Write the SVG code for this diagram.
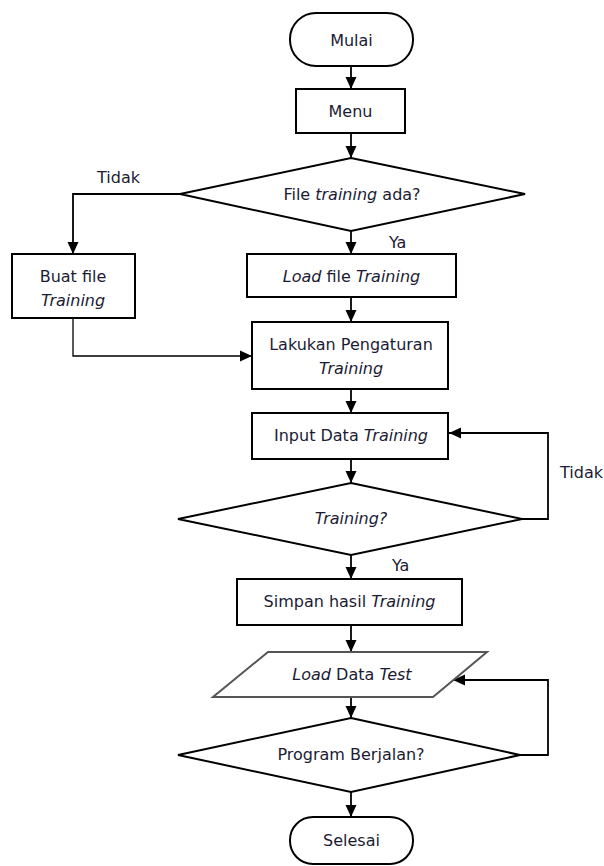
<svg xmlns="http://www.w3.org/2000/svg" width="604" height="866" viewBox="0 0 604 866">
<defs>
<marker id="ah" markerWidth="12" markerHeight="12" viewBox="0 0 12 12" refX="12" refY="6" orient="auto" markerUnits="userSpaceOnUse">
<path d="M0,0.5 L12,6 L0,11.5 Z" fill="#000"/>
</marker>
<style>
.s{fill:#fff;stroke:#000;stroke-width:2}
.p{fill:#fff;stroke:#555;stroke-width:2}
.c{fill:none;stroke:#000;stroke-width:1.8}
.cl{fill:none;stroke:#000;stroke-width:1.3}
text{font-family:"DejaVu Sans","Noto Sans",sans-serif;font-size:16px;fill:#1b1b33;text-anchor:middle}
.i{font-style:italic}
.l{text-anchor:start}
</style>
</defs>
<g id="connectors">
<path class="c" d="M351,66 V89" marker-end="url(#ah)"/>
<path class="c" d="M351,133 V158" marker-end="url(#ah)"/>
<path class="c" d="M180,194 H73 V254" marker-end="url(#ah)"/>
<path class="c" d="M351,231 V254" marker-end="url(#ah)"/>
<path class="c" d="M351,297 V322" marker-end="url(#ah)"/>
<path class="cl" d="M73,318 V356 H252" marker-end="url(#ah)"/>
<path class="c" d="M351,389 V413" marker-end="url(#ah)"/>
<path class="c" d="M351,459 V483" marker-end="url(#ah)"/>
<path class="c" d="M522,519 H548 V433 H449" marker-end="url(#ah)"/>
<path class="c" d="M351,555 V579" marker-end="url(#ah)"/>
<path class="c" d="M351,625 V652" marker-end="url(#ah)"/>
<path class="c" d="M351,697 V718" marker-end="url(#ah)"/>
<path class="c" d="M520,755 H548 V680 H453" marker-end="url(#ah)"/>
<path class="c" d="M351,792 V817" marker-end="url(#ah)"/>
<text class="l" x="97" y="183">Tidak</text>
<text class="l" x="389" y="248">Ya</text>
<text class="l" x="560" y="478">Tidak</text>
<text class="l" x="392" y="571">Ya</text>
</g>
<g id="mulai">
<rect class="s" x="290" y="13" width="123" height="53" rx="26" ry="26"/>
<text x="351.5" y="46">Mulai</text>
</g>
<g id="menu">
<rect class="s" x="296" y="89" width="109" height="44"/>
<text x="350.5" y="117">Menu</text>
</g>
<g id="cek-file">
<polygon class="s" points="351,158 525,194 351,231 180,194"/>
<text x="352" y="200">File <tspan class="i">training</tspan> ada?</text>
</g>
<g id="buat-file">
<rect class="s" x="12" y="254" width="123" height="64"/>
<text x="73" y="282">Buat file</text>
<text class="i" x="73" y="306">Training</text>
</g>
<g id="load-file">
<rect class="s" x="247" y="254" width="209" height="43"/>
<text x="351.5" y="282"><tspan class="i">Load</tspan> file <tspan class="i">Training</tspan></text>
</g>
<g id="pengaturan">
<rect class="s" x="252" y="322" width="196" height="67"/>
<text x="351" y="350">Lakukan Pengaturan</text>
<text class="i" x="351" y="374">Training</text>
</g>
<g id="input-data">
<rect class="s" x="252" y="413" width="196" height="46"/>
<text x="351" y="441">Input Data <tspan class="i">Training</tspan></text>
</g>
<g id="training-cek">
<polygon class="s" points="351,483 522,519 351,555 178,519"/>
<text class="i" x="351" y="524">Training?</text>
</g>
<g id="simpan">
<rect class="s" x="237" y="579" width="225" height="46"/>
<text x="349.5" y="607">Simpan hasil <tspan class="i">Training</tspan></text>
</g>
<g id="load-test">
<polygon class="p" points="268,652 487,652 433,697 213,697"/>
<text x="352" y="680"><tspan class="i">Load</tspan> Data <tspan class="i">Test</tspan></text>
</g>
<g id="program-jalan">
<polygon class="s" points="351,718 520,755 351,792 178,755"/>
<text x="351" y="760">Program Berjalan?</text>
</g>
<g id="selesai">
<rect class="s" x="290" y="817" width="123" height="47" rx="23" ry="23"/>
<text x="351.5" y="846">Selesai</text>
</g>
</svg>
